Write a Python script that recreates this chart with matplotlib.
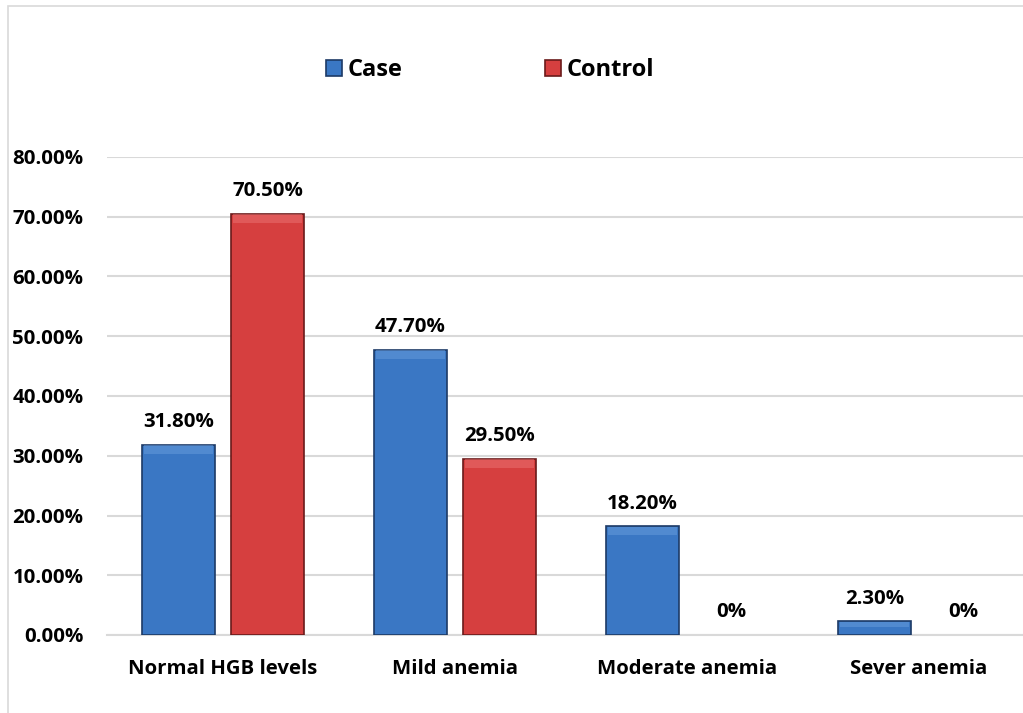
"""Grouped bar chart: haemoglobin status, case vs control."""

import matplotlib

matplotlib.use("Agg")
import matplotlib.pyplot as plt
import numpy as np
from matplotlib.patches import Rectangle
from matplotlib.ticker import FuncFormatter

categories = ["Normal HGB levels", "Mild anemia", "Moderate anemia", "Sever anemia"]
case_values = [31.8, 47.7, 18.2, 2.3]
control_values = [70.5, 29.5, 0.0, 0.0]
series_names = ["Case", "Control"]

plt.rcParams["font.family"] = ["Open Sans", "DejaVu Sans"]
plt.rcParams["font.weight"] = "bold"

fig = plt.figure(figsize=(10.23, 7.13), dpi=100)
ax = fig.add_axes([107 / 1023, 78 / 713, 928 / 1023, 478 / 713])

x = np.arange(len(categories))
width = 0.315
offset = 0.192

styles = [
    dict(color="#3a77c4", edgecolor="#1d3a66", highlight="#6fa3e0"),
    dict(color="#d63f3f", edgecolor="#6a1a1a", highlight="#ee7a7a"),
]

for vals, name, st, sign in zip(
    [case_values, control_values], series_names, styles, [-1, 1], strict=True
):
    bars = ax.bar(
        x + sign * offset,
        vals,
        width,
        color=st["color"],
        edgecolor=st["edgecolor"],
        linewidth=1.2,
        label=name,
        zorder=3,
    )
    for bar, v in zip(bars, vals, strict=True):
        if v <= 0:
            bar.set_visible(False)
        else:
            # soft bevel along the top edge
            h = min(1.4, v * 0.4)
            ax.add_patch(
                Rectangle(
                    (bar.get_x() + 0.008, v - h - 0.08),
                    bar.get_width() - 0.016,
                    h,
                    facecolor=st["highlight"],
                    edgecolor="none",
                    alpha=0.45,
                    zorder=4,
                )
            )
        label = "0%" if v == 0 else f"{v:.2f}%"
        ax.text(
            bar.get_x() + bar.get_width() / 2,
            v + 2.1,
            label,
            ha="center",
            va="bottom",
            fontsize=14.7,
            fontweight="bold",
            zorder=5,
        )

ax.set_xlim(-0.5, 3.5)
ax.set_ylim(0, 80)
ax.set_yticks(np.arange(0, 81, 10))
ax.yaxis.set_major_formatter(FuncFormatter(lambda v, _: f"{v:.2f}%"))
ax.set_xticks(x)
ax.set_xticklabels(categories)
ax.tick_params(axis="both", length=0, labelsize=14.7)
ax.tick_params(axis="x", pad=17.5)
ax.tick_params(axis="y", pad=17)
for lab in ax.get_xticklabels() + ax.get_yticklabels():
    lab.set_fontweight("bold")

ax.grid(True, axis="y", color="#d9d9d9", linewidth=1.5, zorder=0)
for side in ["top", "right", "left"]:
    ax.spines[side].set_visible(False)
ax.spines["bottom"].set_color("#d9d9d9")
ax.spines["bottom"].set_linewidth(1.5)

fig.legend(
    loc="center",
    bbox_to_anchor=(490 / 1023, 1 - 70 / 713),
    ncol=2,
    frameon=False,
    handlelength=0.68,
    handleheight=0.68,
    handletextpad=0.25,
    columnspacing=6.0,
    prop={"weight": "bold", "size": 17},
)

# chart frame
fig.patches.append(
    Rectangle(
        (8 / 1023, -0.05),
        1.1,
        1 - 6 / 713 + 0.05,
        transform=fig.transFigure,
        fill=False,
        edgecolor="#d9d9d9",
        linewidth=1.2,
    )
)

fig.savefig("out.png", dpi=100)
plt.close(fig)
